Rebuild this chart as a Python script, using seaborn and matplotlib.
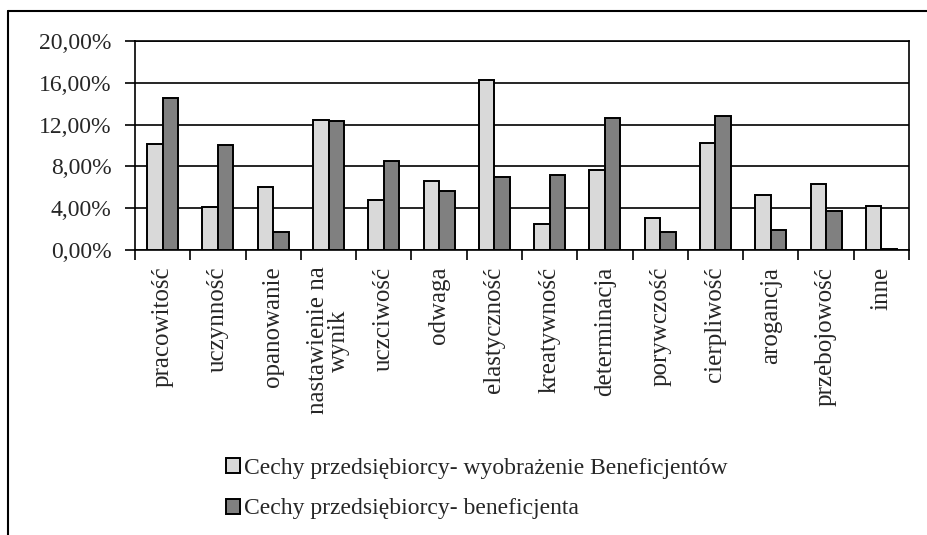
import numpy as np
import pandas as pd
import matplotlib
matplotlib.use("Agg")
import matplotlib.pyplot as plt
from matplotlib.lines import Line2D
from matplotlib.ticker import FuncFormatter, FixedLocator
import seaborn as sns

categories = [
    "pracowitość", "uczynność", "opanowanie", "nastawienie na\nwynik",
    "uczciwość", "odwaga", "elastyczność", "kreatywność", "determinacja",
    "porywczość", "cierpliwość", "arogancja", "przebojowość", "inne",
]
series_names = [
    "Cechy przedsiębiorcy- wyobrażenie Beneficjentów",
    "Cechy przedsiębiorcy- beneficjenta",
]
wyobrazenie = [10.1, 4.1, 6.0, 12.4, 4.8, 6.6, 16.3, 2.5, 7.7, 3.1, 10.2, 5.3, 6.3, 4.2]
beneficjent = [14.5, 10.0, 1.7, 12.3, 8.5, 5.6, 7.0, 7.2, 12.6, 1.7, 12.8, 1.9, 3.7, 0.1]
y_ticks = [0, 4, 8, 12, 16, 20]

df = pd.DataFrame({
    "Cecha": categories * 2,
    "Procent": wyobrazenie + beneficjent,
    "Seria": [series_names[0]] * len(categories) + [series_names[1]] * len(categories),
})

sns.set_style("ticks")
plt.rcParams['font.family'] = ['Liberation Serif', 'DejaVu Serif']
plt.rcParams['font.size'] = 17

fig = plt.figure(figsize=(9.28, 5.35), dpi=100)
ax = fig.add_axes([0.1455, 0.5327, 0.834, 0.3907])

sns.barplot(
    data=df, x="Cecha", y="Procent", hue="Seria",
    palette=["#d9d9d9", "#808080"], width=0.56,
    edgecolor="black", linewidth=1.4, ax=ax, zorder=3,
)

ax.set_xlim(-0.5, len(categories) - 0.5)
ax.set_ylim(0, 20)
ax.set_yticks(y_ticks)
ax.yaxis.set_major_formatter(FuncFormatter(lambda v, p: f"{v:.2f}%".replace(".", ",")))
ax.grid(axis="y", color="black", linewidth=1.2, zorder=0)
ax.set_axisbelow(True)

ax.set_xticks(range(len(categories)))
ax.set_xticklabels(categories, rotation=90, ha="center", va="top", fontsize=18,
                   linespacing=0.95)
ax.xaxis.set_minor_locator(FixedLocator(np.arange(-0.5, len(categories), 1)))
ax.tick_params(axis="x", which="major", length=0, pad=12)
ax.tick_params(axis="x", which="minor", length=7, width=1.2, color="black", direction="out")
ax.tick_params(axis="y", length=7, width=1.2, color="black", direction="out", labelsize=17, pad=10)

for side in ["left", "right", "bottom", "top"]:
    ax.spines[side].set_visible(True)
    ax.spines[side].set_color("black")
    ax.spines[side].set_linewidth(1.2)

ax.set_xlabel("")
ax.set_ylabel("")

sns.move_legend(
    ax, "upper left", bbox_to_anchor=(0.231, 0.166), bbox_transform=fig.transFigure,
    frameon=False, title=None, fontsize=17, handlelength=0.6, handleheight=0.6,
    handletextpad=0.15, labelspacing=0.82, borderpad=0,
)

# outer frame (only left and top edges visible)
fig.add_artist(Line2D([8.5 / 928, 8.5 / 928], [0, 1 - 11 / 535], color="black", lw=1.5))
fig.add_artist(Line2D([8.5 / 928, 1], [1 - 11 / 535, 1 - 11 / 535], color="black", lw=1.5))

fig.savefig("out.png", dpi=100)
